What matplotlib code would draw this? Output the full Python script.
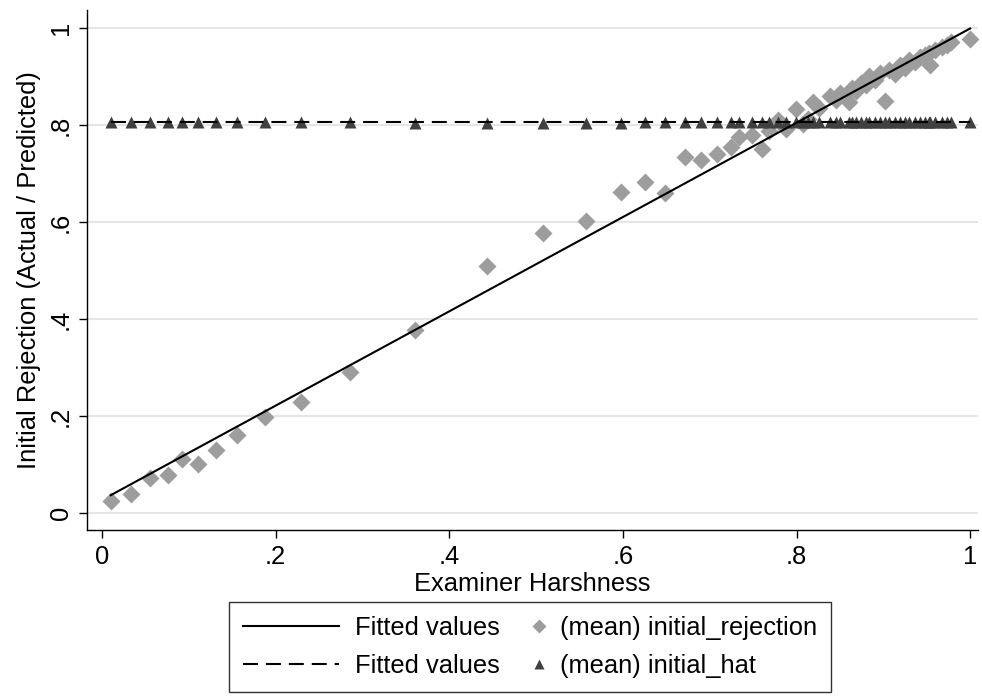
import matplotlib
matplotlib.use('Agg')
import matplotlib.pyplot as plt
import numpy as np
from matplotlib.lines import Line2D
from matplotlib.legend_handler import HandlerBase

plt.rcParams['font.family'] = ['Liberation Sans', 'DejaVu Sans']

# binned examiner harshness and the two outcome means
harshness = [0.010, 0.033, 0.055, 0.076, 0.092, 0.110, 0.131, 0.156, 0.188, 0.229,
             0.286, 0.361, 0.444, 0.508, 0.558, 0.598, 0.625, 0.649, 0.671, 0.690,
             0.708, 0.724, 0.734, 0.749, 0.760, 0.768, 0.779, 0.788, 0.799, 0.807,
             0.813, 0.819, 0.826, 0.838, 0.845, 0.850, 0.860, 0.864, 0.869, 0.874,
             0.880, 0.884, 0.890, 0.896, 0.902, 0.907, 0.913, 0.919, 0.925, 0.930,
             0.936, 0.942, 0.948, 0.953, 0.954, 0.960, 0.967, 0.973, 0.978, 1.000]
initial_rejection = [0.025, 0.039, 0.072, 0.078, 0.111, 0.102, 0.130, 0.161, 0.197, 0.229,
                     0.291, 0.378, 0.510, 0.578, 0.603, 0.662, 0.683, 0.659, 0.735, 0.728,
                     0.740, 0.754, 0.776, 0.779, 0.750, 0.788, 0.810, 0.791, 0.832, 0.803,
                     0.812, 0.848, 0.836, 0.860, 0.852, 0.865, 0.848, 0.876, 0.870, 0.886,
                     0.882, 0.900, 0.893, 0.907, 0.850, 0.913, 0.905, 0.924, 0.918, 0.934,
                     0.930, 0.941, 0.944, 0.948, 0.924, 0.955, 0.961, 0.965, 0.972, 0.978]
initial_hat = [0.806, 0.806, 0.806, 0.806, 0.807, 0.806, 0.807, 0.807, 0.806, 0.806,
               0.806, 0.805, 0.805, 0.805, 0.805, 0.805, 0.806, 0.806, 0.806, 0.806,
               0.806, 0.806, 0.806, 0.806, 0.806, 0.806, 0.806, 0.806, 0.806, 0.806,
               0.806, 0.806, 0.806, 0.806, 0.806, 0.806, 0.806, 0.806, 0.806, 0.806,
               0.806, 0.806, 0.806, 0.806, 0.806, 0.806, 0.806, 0.806, 0.806, 0.806,
               0.806, 0.806, 0.806, 0.806, 0.806, 0.806, 0.806, 0.806, 0.806, 0.806]

# linear fits (intercept, slope)
fit_rejection = (0.027, 0.972)
fit_hat = (0.8056, 0.0)

yticks = [0, 0.2, 0.4, 0.6, 0.8, 1.0]
ytick_labels = ['0', '.2', '.4', '.6', '.8', '1']
xticks = [0, 0.2, 0.4, 0.6, 0.8, 1.0]
xtick_labels = ['0', '.2', '.4', '.6', '.8', '1']

FS = 18.4
diamond_col = '#9d9d9d'
tri_col = '#404040'
DASH = (7.2, 3.8)

fig = plt.figure(figsize=(9.82, 6.96), dpi=100)
ax = fig.add_axes([0.0886, 0.2385, 0.9073, 0.7471])

x = np.array(harshness)
xs = np.array([x.min(), x.max()])

ax.plot(x, initial_rejection, linestyle='none', marker='D', ms=9.4,
        color=diamond_col, mec='none', zorder=3)
ax.plot(x, initial_hat, linestyle='none', marker='^', ms=9.2,
        color=tri_col, mec='none', zorder=4)
ax.plot(xs, fit_rejection[0] + fit_rejection[1] * xs, color='black', lw=1.5, zorder=5)
ax.plot(xs, fit_hat[0] + fit_hat[1] * xs, color='black', lw=1.5,
        dashes=DASH, zorder=5)

ax.set_xlim(-0.0173, 1.009)
ax.set_ylim(-0.035, 1.037)
ax.set_yticks(yticks)
ax.set_yticklabels(ytick_labels, rotation=90, va='center', fontsize=FS)
ax.set_xticks(xticks)
ax.set_xticklabels(xtick_labels, fontsize=FS)
ax.tick_params(length=6, width=1, pad=4, colors='black')
ax.tick_params(axis='x', pad=5)
ax.grid(axis='y', color='#e6e6e6', lw=1.5)
ax.set_axisbelow(True)
for s in ['top', 'right']:
    ax.spines[s].set_visible(False)
for s in ['left', 'bottom']:
    ax.spines[s].set_linewidth(1)

ax.set_xlabel('Examiner Harshness', fontsize=FS, labelpad=2)
ax.set_ylabel('Initial Rejection (Actual / Predicted)', fontsize=FS, labelpad=6)


class MarkerAtRight(HandlerBase):
    # marker entries sit at the right end of the handle slot
    def create_artists(self, legend, orig_handle, xdescent, ydescent,
                       width, height, fontsize, trans):
        m = Line2D([width - xdescent - 4], [height / 2 - ydescent],
                   marker=orig_handle.get_marker(), ms=orig_handle.get_markersize(),
                   color=orig_handle.get_color(), mec='none', linestyle='none',
                   transform=trans)
        return [m]


h_solid = Line2D([], [], color='black', lw=1.5)
h_dash = Line2D([], [], color='black', lw=1.5, dashes=DASH)
h_dia = Line2D([], [], marker='D', ms=7.5, color=diamond_col, linestyle='none')
h_tri = Line2D([], [], marker='^', ms=6.5, color=tri_col, linestyle='none')

leg = fig.legend([h_solid, h_dash, h_dia, h_tri],
                 ['Fitted values', 'Fitted values',
                  '(mean) initial_rejection', '(mean) initial_hat'],
                 ncol=2, loc='lower center', bbox_to_anchor=(0.54, 0.006),
                 borderaxespad=0,
                 fontsize=FS, frameon=True, fancybox=False, edgecolor='black',
                 handlelength=3.75, handletextpad=0.62, columnspacing=-2.0,
                 labelspacing=0.55, borderpad=0.55,
                 handler_map={h_dia: MarkerAtRight(), h_tri: MarkerAtRight()})
leg.get_frame().set_linewidth(1)

fig.savefig('out.png', dpi=100)
